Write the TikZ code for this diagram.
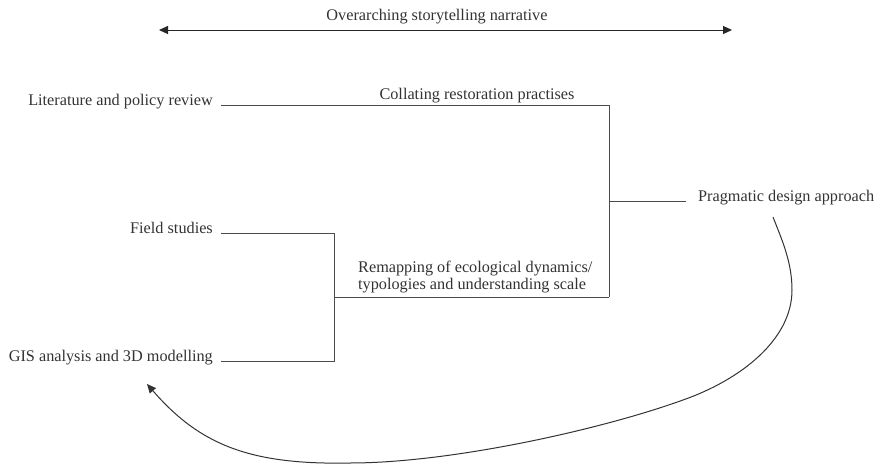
\documentclass[tikz,border=0pt]{standalone}
\usepackage{fontspec}
\setmainfont{Liberation Serif}
\usetikzlibrary{arrows.meta}
\begin{document}
\begin{tikzpicture}[x=1pt,y=-1pt,
  lbl/.style={inner sep=0pt, text=black!80, font=\fontsize{16.25}{17}\selectfont},
  src/.style={lbl, inner xsep=8pt, anchor=base east},
  conn/.style={draw=black!70, line width=1pt},
  tip/.style={-{Triangle[length=9pt,width=8pt]}}
]
\path[use as bounding box, fill=white] (0,0) rectangle (879,466);

% top arrow
\coordinate (aL) at (159,30);
\coordinate (aR) at (732,30);
\draw[conn, {Triangle[length=9pt,width=8pt]}-{Triangle[length=9pt,width=8pt]}, draw=black!85] (aL) -- (aR);
\node[lbl, anchor=base] (story) at (437,20) {Overarching storytelling narrative};

% sources
\node[src] (lit) at (221,105) {Literature and policy review};
\node[src] (field) at (221,233) {Field studies};
\node[src] (gis) at (221,361) {GIS analysis and 3D modelling};

% junctions
\coordinate (jL) at (334,297);
\coordinate (jR) at (609,297);
\coordinate (jM) at (609,201);

\draw[conn] (lit.base east) -| (jR);
\draw[conn] (field.base east) -| (jL);
\draw[conn] (gis.base east) -| (jL);
\draw[conn] (jL) -- (jR);

% labels on branches
\node[lbl, anchor=base] (coll) at (477,99) {Collating restoration practises};
\node[lbl, anchor=base west] (rem1) at (358,272) {Remapping of ecological dynamics/};
\node[lbl, anchor=base west] (rem2) at (358,289) {typologies and understanding scale};

% outcome
\node[lbl, inner xsep=12pt, anchor=base west] (prag) at (686,201) {Pragmatic design approach};
\draw[conn] (jM) -- (prag.base west);

% feedback curve
\coordinate (c0) at (773,217);
\coordinate (c1) at (147,384);
\draw[conn, draw=black!80, tip] (c0)
  .. controls (782,240) and (792,262) .. (792,290)
  .. controls (792,340) and (740,380) .. (683,400)
  .. controls (600,430) and (450,463) .. (350,463)
  .. controls (250,465) and (200,445) .. (c1);
\end{tikzpicture}
\end{document}
